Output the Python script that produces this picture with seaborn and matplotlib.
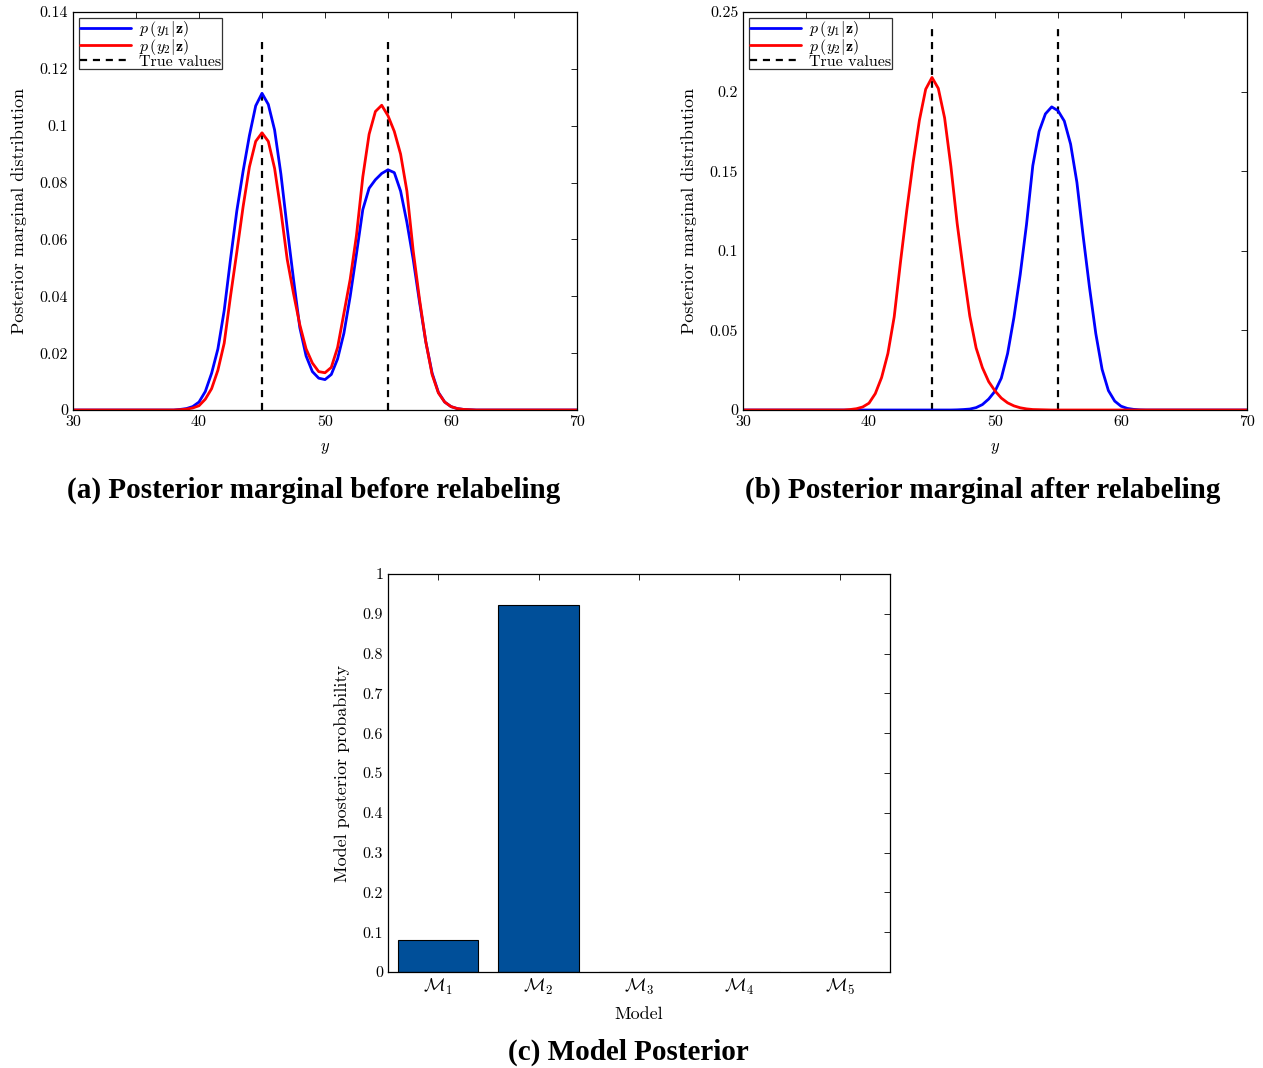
import matplotlib
matplotlib.use("Agg")
import matplotlib.pyplot as plt
import seaborn as sns
import numpy as np
import pandas as pd
from matplotlib.ticker import MultipleLocator, FuncFormatter

# ---------------- data ----------------
y_grid = [30, 34, 36, 37,
          38, 38.5, 39, 39.5, 40, 40.5, 41, 41.5, 42, 42.5, 43, 43.5, 44, 44.5,
          45, 45.5, 46, 46.5, 47, 47.5, 48, 48.5, 49, 49.5, 50, 50.5, 51, 51.5,
          52, 52.5, 53, 53.5, 54, 54.5, 55, 55.5, 56, 56.5, 57, 57.5, 58, 58.5,
          59, 59.5, 60, 60.5, 61, 61.5, 62,
          63, 64, 66, 70]

# (a) before relabeling
p_y1_before = [0, 0, 0, 0,
               0.0000, 0.0002, 0.0005, 0.0012, 0.0028, 0.0065, 0.0129, 0.0215, 0.0350, 0.0530,
               0.0700, 0.0840, 0.0965, 0.1070, 0.1114, 0.1075, 0.0985, 0.0830, 0.0640, 0.0460,
               0.0290, 0.0190, 0.0135, 0.0112, 0.0107, 0.0125, 0.0180, 0.0270, 0.0400, 0.0550,
               0.0705, 0.0780, 0.0810, 0.0832, 0.0845, 0.0835, 0.0770, 0.0660, 0.0530, 0.0380,
               0.0240, 0.0130, 0.0062, 0.0028, 0.0012, 0.0005, 0.0002, 0.0001, 0.0000,
               0, 0, 0, 0]
p_y2_before = [0, 0, 0, 0,
               0.0000, 0.0001, 0.0003, 0.0007, 0.0015, 0.0038, 0.0075, 0.0140, 0.0235, 0.0400,
               0.0555, 0.0715, 0.0855, 0.0945, 0.0975, 0.0945, 0.0850, 0.0700, 0.0530, 0.0410,
               0.0300, 0.0215, 0.0165, 0.0135, 0.0131, 0.0150, 0.0220, 0.0340, 0.0460, 0.0615,
               0.0820, 0.0970, 0.1050, 0.1072, 0.1035, 0.0980, 0.0900, 0.0770, 0.0560, 0.0390,
               0.0240, 0.0125, 0.0060, 0.0028, 0.0012, 0.0005, 0.0002, 0.0001, 0.0000,
               0, 0, 0, 0]

# (b) after relabeling
p_y1_after = [0, 0, 0, 0,
              0, 0, 0, 0, 0, 0, 0, 0, 0, 0,
              0, 0, 0, 0, 0, 0, 0, 0, 0.0001, 0.0003,
              0.0006, 0.0015, 0.0034, 0.0069, 0.0118, 0.0200, 0.0355, 0.0580, 0.0850, 0.1165,
              0.1535, 0.1750, 0.1860, 0.1904, 0.1880, 0.1815, 0.1670, 0.1430, 0.1090, 0.0770,
              0.0480, 0.0255, 0.0122, 0.0056, 0.0024, 0.0010, 0.0004, 0.0001, 0.0000,
              0, 0, 0, 0]
p_y2_after = [0, 0, 0, 0,
              0.0000, 0.0003, 0.0008, 0.0019, 0.0043, 0.0103, 0.0204, 0.0355, 0.0585, 0.0930,
              0.1255, 0.1555, 0.1820, 0.2015, 0.2089, 0.2020, 0.1835, 0.1530, 0.1170, 0.0870,
              0.0590, 0.0390, 0.0266, 0.0178, 0.0120, 0.0075, 0.0045, 0.0026, 0.0014, 0.0007,
              0.0003, 0.0002, 0.0001, 0, 0, 0, 0, 0, 0, 0,
              0, 0, 0, 0, 0, 0, 0, 0, 0,
              0, 0, 0, 0]

true_values = [45, 55]
true_line_top = [0.13, 0.24]

models = [r"$\mathcal{M}_1$", r"$\mathcal{M}_2$", r"$\mathcal{M}_3$", r"$\mathcal{M}_4$", r"$\mathcal{M}_5$"]
model_prob = [0.080, 0.922, 0.0, 0.0, 0.0]

# ---------------- style ----------------
sns.set_style("white")
plt.rcParams.update({
    "font.family": ["cmr10", "DejaVu Serif"],
    "mathtext.fontset": "cm",
    "axes.formatter.use_mathtext": True,
    "text.color": "black",
    "axes.labelcolor": "black",
    "xtick.direction": "in",
    "ytick.direction": "in",
    "xtick.top": True,
    "ytick.right": True,
    "axes.edgecolor": "black",
    "axes.linewidth": 0.9,
    "xtick.color": "black",
    "ytick.color": "black",
    "xtick.major.size": 4,
    "ytick.major.size": 4,
    "xtick.minor.size": 4,
    "ytick.minor.size": 4,
    "xtick.major.width": 0.6,
    "ytick.major.width": 0.6,
    "xtick.minor.width": 0.6,
    "font.size": 11,
})

W, H = 1263, 1068
fig = plt.figure(figsize=(W / 100, H / 100), dpi=100)


def frac(l, t, r, b):
    return [l / W, 1 - b / H, (r - l) / W, (b - t) / H]


ax_a = fig.add_axes(frac(73, 12, 577, 410))
ax_b = fig.add_axes(frac(743, 12, 1247, 410))
ax_c = fig.add_axes(frac(388, 574, 890, 972))

fmt = FuncFormatter(lambda v, p: f"{v:g}")
TICK_FS = 11.5
LABEL_FS = 13


def marginal_panel(ax, y1, y2, ymax, ystep, top):
    sns.lineplot(x=y_grid, y=y1, ax=ax, color="#0000ff", lw=2, sort=False,
                 label=r"$p\,(y_1|\mathbf{z})$")
    sns.lineplot(x=y_grid, y=y2, ax=ax, color="#ff0000", lw=2, sort=False,
                 label=r"$p\,(y_2|\mathbf{z})$")
    for i, tv in enumerate(true_values):
        ax.plot([tv, tv], [0, top], color="black", ls=(0, (3.2, 2.6)), lw=1.6,
                label="True values" if i == 0 else None, zorder=1)
    ax.set_xlim(30, 70)
    ax.set_ylim(0, ymax)
    ax.xaxis.set_major_locator(MultipleLocator(10))
    ax.xaxis.set_minor_locator(MultipleLocator(5))
    ax.yaxis.set_major_locator(MultipleLocator(ystep))
    ax.xaxis.set_major_formatter(fmt)
    ax.yaxis.set_major_formatter(fmt)
    ax.tick_params(which="both", top=True, right=True, direction="in", labelsize=TICK_FS)
    ax.set_xlabel(r"$y$", fontsize=12, labelpad=9)
    ax.set_ylabel("Posterior marginal distribution", fontsize=LABEL_FS, labelpad=9)
    for s in ax.spines.values():
        s.set_visible(True)
    leg = ax.legend(loc="upper left", bbox_to_anchor=(0.0, 1.0), fontsize=11.5,
                    frameon=True, fancybox=False, edgecolor="black",
                    handlelength=3.2, handletextpad=0.5, borderpad=0.05,
                    labelspacing=-0.15, borderaxespad=0.4)
    leg.get_frame().set_linewidth(0.9)


marginal_panel(ax_a, p_y1_before, p_y2_before, 0.14, 0.02, true_line_top[0])
marginal_panel(ax_b, p_y1_after, p_y2_after, 0.25, 0.05, true_line_top[1])

# (c) model posterior
df_c = pd.DataFrame({"Model": models, "prob": model_prob})
sns.barplot(data=df_c, x="Model", y="prob", ax=ax_c, color="#004f99",
            saturation=1, edgecolor="black", linewidth=0.8, width=0.8)
ax_c.set_xlim(-0.5, 4.5)
ax_c.set_ylim(0, 1)
ax_c.yaxis.set_major_locator(MultipleLocator(0.1))
ax_c.yaxis.set_major_formatter(fmt)
ax_c.tick_params(which="both", top=True, right=True, direction="in", labelsize=TICK_FS)
ax_c.tick_params(axis="x", labelsize=13)
ax_c.set_xlabel("Model", fontsize=LABEL_FS, labelpad=7)
ax_c.set_ylabel("Model posterior probability", fontsize=LABEL_FS, labelpad=9)
for s in ax_c.spines.values():
    s.set_visible(True)

# captions
cap_kw = dict(family=["Liberation Serif", "DejaVu Serif"], weight="bold", fontsize=21,
              ha="center", va="center", color="black")
fig.text(314 / W, 1 - 490 / H, "(a) Posterior marginal before relabeling", **cap_kw)
fig.text(983 / W, 1 - 490 / H, "(b) Posterior marginal after relabeling", **cap_kw)
fig.text(628 / W, 1 - 1052 / H, "(c) Model Posterior", **cap_kw)

fig.savefig("out.png", dpi=100, facecolor="white")
